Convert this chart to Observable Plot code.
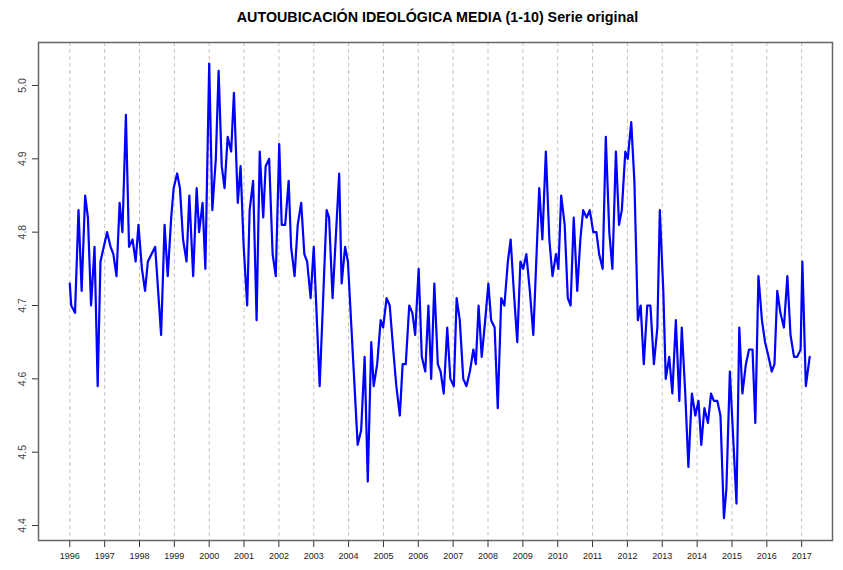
<!DOCTYPE html>
<html>
<head>
<meta charset="utf-8">
<script src="https://cdn.jsdelivr.net/npm/d3@7"></script>
<script src="https://cdn.jsdelivr.net/npm/@observablehq/plot@0.6"></script>
<style>
  html, body { margin: 0; padding: 0; background: #fff; }
  #title { width: 843px; height: 34px; box-sizing: border-box; padding-left: 32px;
    text-align: center; font: bold 14.3px "Liberation Sans", Arial, sans-serif; color: #000;
    line-height: 34px; }
  svg { display: block; }
</style>
</head>
<body>
<div id="title">AUTOUBICACIÓN IDEOLÓGICA MEDIA (1-10) Serie original</div>
<div id="chart"></div>
<script>
const time = [
  1996.00,1996.04,1996.15,1996.25,1996.34,1996.44,1996.52,1996.61,1996.71,1996.80,1996.88,
  1997.07,1997.17,1997.25,1997.34,1997.43,1997.51,1997.61,1997.70,1997.80,1997.89,1997.97,
  1998.07,1998.16,1998.24,1998.45,1998.62,1998.72,1998.81,1998.91,1998.98,
  1999.08,1999.16,1999.25,1999.35,1999.43,1999.54,1999.64,1999.71,1999.81,1999.89,
  2000.00,2000.09,2000.19,2000.27,2000.36,2000.44,2000.53,2000.63,2000.71,2000.82,2000.90,2000.99,
  2001.09,2001.16,2001.26,2001.36,2001.45,2001.55,2001.62,2001.72,2001.82,2001.91,
  2002.01,2002.08,2002.18,2002.28,2002.35,2002.45,2002.54,2002.64,2002.73,2002.81,2002.91,
  2003.00,2003.17,2003.37,2003.44,2003.54,2003.73,2003.80,2003.90,2003.98,
  2004.26,2004.36,2004.46,2004.55,2004.65,2004.72,2004.82,2004.92,2004.99,
  2005.09,2005.18,2005.28,2005.37,2005.47,2005.55,2005.64,2005.74,2005.83,2005.91,
  2006.01,2006.10,2006.20,2006.29,2006.37,2006.46,2006.56,2006.64,2006.73,2006.83,2006.92,
  2007.02,2007.10,2007.19,2007.29,2007.38,2007.48,2007.58,2007.65,2007.73,2007.82,2007.92,
  2008.01,2008.09,2008.19,2008.28,2008.38,2008.47,2008.57,2008.65,2008.74,2008.84,2008.93,
  2009.01,2009.10,2009.20,2009.30,2009.47,2009.56,2009.66,2009.76,2009.85,2009.95,
  2010.02,2010.10,2010.20,2010.29,2010.37,2010.46,2010.56,2010.65,2010.73,2010.83,2010.92,
  2011.02,2011.11,2011.19,2011.29,2011.38,2011.48,2011.57,2011.67,2011.76,2011.84,2011.94,
  2012.01,2012.11,2012.20,2012.30,2012.38,2012.47,2012.57,2012.66,2012.76,2012.86,2012.93,
  2013.03,2013.10,2013.20,2013.29,2013.39,2013.49,2013.56,2013.66,2013.75,2013.85,2013.95,
  2014.04,2014.12,2014.21,2014.31,2014.40,2014.48,2014.58,2014.67,2014.77,2014.84,2014.94,
  2015.13,2015.21,2015.30,2015.40,2015.49,2015.59,2015.67,2015.76,2015.86,2015.95,
  2016.05,2016.14,2016.22,2016.30,2016.39,2016.49,2016.59,2016.68,2016.78,2016.87,2016.97,
  2017.02,2017.12,2017.23
];
const value = [
  4.73,4.70,4.69,4.83,4.72,4.85,4.82,4.70,4.78,4.59,4.76,
  4.80,4.78,4.77,4.74,4.84,4.80,4.96,4.78,4.79,4.76,4.81,
  4.75,4.72,4.76,4.78,4.66,4.81,4.74,4.82,4.86,
  4.88,4.86,4.79,4.76,4.85,4.74,4.86,4.80,4.84,4.75,
  5.03,4.83,4.90,5.02,4.89,4.86,4.93,4.91,4.99,4.84,4.89,4.78,
  4.70,4.83,4.87,4.68,4.91,4.82,4.89,4.90,4.77,4.74,
  4.92,4.81,4.81,4.87,4.78,4.74,4.81,4.84,4.77,4.76,4.71,
  4.78,4.59,4.83,4.82,4.71,4.88,4.73,4.78,4.76,
  4.51,4.53,4.63,4.46,4.65,4.59,4.62,4.68,4.67,
  4.71,4.70,4.64,4.59,4.55,4.62,4.62,4.70,4.69,4.66,
  4.75,4.63,4.61,4.70,4.60,4.73,4.62,4.61,4.58,4.67,4.60,
  4.59,4.71,4.68,4.60,4.59,4.61,4.64,4.62,4.70,4.63,4.68,
  4.73,4.68,4.67,4.56,4.71,4.70,4.76,4.79,4.72,4.65,4.76,
  4.75,4.77,4.72,4.66,4.86,4.79,4.91,4.79,4.74,4.77,
  4.75,4.85,4.81,4.71,4.70,4.82,4.72,4.79,4.83,4.82,4.83,
  4.80,4.80,4.77,4.75,4.93,4.80,4.75,4.91,4.81,4.83,4.91,
  4.90,4.95,4.87,4.68,4.70,4.62,4.70,4.70,4.62,4.67,4.83,
  4.72,4.60,4.63,4.58,4.68,4.57,4.67,4.58,4.48,4.58,4.55,
  4.57,4.51,4.56,4.54,4.58,4.57,4.57,4.55,4.41,4.45,4.61,
  4.43,4.67,4.58,4.62,4.64,4.64,4.54,4.74,4.68,4.65,
  4.63,4.61,4.62,4.72,4.69,4.67,4.74,4.66,4.63,4.63,4.64,
  4.76,4.59,4.63
];
const years = [1996,1997,1998,1999,2000,2001,2002,2003,2004,2005,2006,2007,2008,2009,2010,2011,2012,2013,2014,2015,2016,2017];
const yTicks = [4.4,4.5,4.6,4.7,4.8,4.9,5.0];

const data = time.map((t, i) => ({t, v: value[i]}));

const chart = Plot.plot({
  width: 843,
  height: 536,
  marginTop: 8,
  marginBottom: 30,
  marginLeft: 38,
  marginRight: 11,
  style: {fontFamily: "'Liberation Sans', Arial, sans-serif", background: "#fff"},
  x: {domain: [1995.102, 2017.885], label: null},
  y: {domain: [4.3796, 5.0586], label: null},
  marks: [
    Plot.gridX({ticks: years, stroke: "#c4c4c4", strokeOpacity: 1, strokeDasharray: "4,3", strokeWidth: 1}),
    Plot.axisX({ticks: years, tickSize: 7, tickPadding: 5, tickFormat: d => String(d), fontSize: 9, fill: "#222", stroke: "#333", label: null}),
    Plot.axisY({ticks: yTicks, tickSize: 6, tickFormat: () => "", stroke: "#333", label: null}),
    Plot.text(yTicks, {y: d => d, text: d => d.toFixed(1), frameAnchor: "left", dx: -16, rotate: -90, textAnchor: "middle", lineAnchor: "middle", fontSize: 10.5, fill: "#444"}),
    Plot.frame({stroke: "#666", strokeWidth: 1.5}),
    Plot.line(data, {x: "t", y: "v", stroke: "#0000ff", strokeWidth: 2.2, strokeLinejoin: "round"})
  ]
});
document.getElementById("chart").appendChild(chart);
</script>
</body>
</html>
